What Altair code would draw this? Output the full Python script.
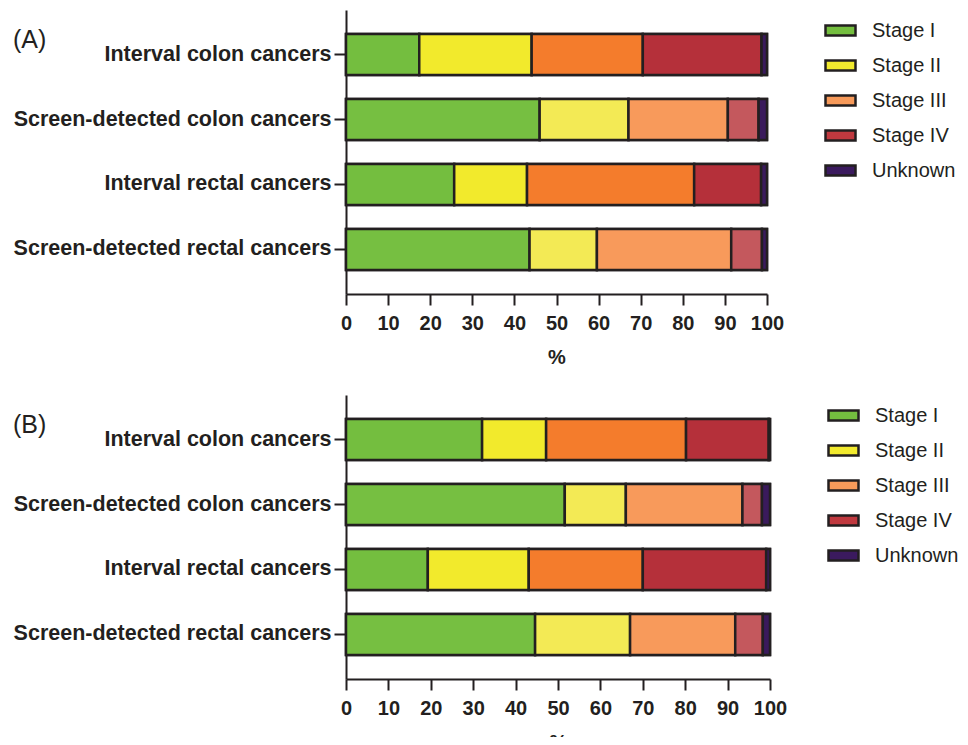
import altair as alt
import pandas as pd

groups = ["Interval colon cancers", "Screen-detected colon cancers",
          "Interval rectal cancers", "Screen-detected rectal cancers"]
stages = ["Stage I", "Stage II", "Stage III", "Stage IV", "Unknown"]

# Panel A percentages per stage (order of groups above)
a_stage1 = [17.4, 46.0, 25.7, 43.6]
a_stage2 = [26.7, 21.1, 17.3, 16.0]
a_stage3 = [26.4, 23.6, 39.7, 31.9]
a_stage4 = [28.2, 7.3, 15.9, 7.3]
a_unknown = [1.3, 2.0, 1.4, 1.2]

# Panel B percentages per stage
b_stage1 = [32.1, 51.6, 19.3, 44.6]
b_stage2 = [15.1, 14.4, 23.8, 22.4]
b_stage3 = [33.0, 27.5, 26.9, 24.8]
b_stage4 = [19.5, 4.6, 29.1, 6.5]
b_unknown = [0.3, 1.9, 0.9, 1.7]

panel_labels = ["(A)", "(B)"]

legend_colors = ["#74BE3F", "#F2EA2E", "#F79A5A", "#C0393F", "#3B1A5E"]
interval_colors = ["#74BE3F", "#F2EA2C", "#F47C2C", "#B5303A", "#3A1A5C"]
screen_colors = ["#76BF41", "#F3EA55", "#F89A5B", "#C4585D", "#3A1A5C"]

INK = "#231F20"
FONT = "Liberation Sans"


def long_df(cols):
    rows = []
    for s, vals in zip(stages, cols):
        for g, v in zip(groups, vals):
            rows.append({"group": g, "stage": s, "pct": v})
    return pd.DataFrame(rows)


key_domain = [s + " | interval" for s in stages] + [s + " | screen" for s in stages]
key_range = interval_colors + screen_colors


def panel(cols, label, width, height):
    df = long_df(cols)
    base = alt.Chart(df).transform_calculate(
        key="datum.stage + (indexof(datum.group, 'Interval') === 0 ? ' | interval' : ' | screen')"
    )
    y = alt.Y("group:N", sort=groups, title=None,
              scale=alt.Scale(paddingInner=0.37, paddingOuter=0.37),
              axis=alt.Axis(labelFont=FONT, labelFontSize=21.5, labelFontWeight="bold",
                            labelColor=INK, labelLimit=0, tickSize=12, tickWidth=2,
                            tickColor=INK, domainWidth=2, domainColor=INK, labelPadding=3))
    x = alt.X("pct:Q", stack="zero", title="%",
              scale=alt.Scale(domain=[0, 100], nice=False),
              axis=alt.Axis(values=list(range(0, 101, 10)), labelFont=FONT, labelFontSize=20,
                            labelFontWeight="bold", labelColor=INK, tickSize=11, tickWidth=2,
                            tickColor=INK, domainWidth=2, domainColor=INK, grid=False,
                            labelPadding=8, labelOverlap=False, labelFlush=False,
                            titleFont=FONT, titleFontSize=20, titleFontWeight="bold",
                            titleColor=INK, titlePadding=14))
    legend_layer = base.mark_bar(stroke=INK, strokeWidth=2.5).encode(
        x=x, y=y,
        color=alt.Color("stage:N",
                        scale=alt.Scale(domain=stages, range=legend_colors),
                        legend=alt.Legend(title=None, orient="right", offset=53,
                                          labelFont=FONT, labelFontSize=20, labelColor=INK,
                                          symbolType="M-1,-0.33H1V0.33H-1Z", symbolSize=900,
                                          symbolStrokeColor=INK, symbolStrokeWidth=2.5,
                                          symbolOpacity=1, labelOffset=15, rowPadding=8,
                                          padding=4)),
        order=alt.Order("stage:N", sort="ascending"),
    )
    bars = base.mark_bar(stroke=INK, strokeWidth=2.5).encode(
        x=x, y=y,
        color=alt.Color("key:N", scale=alt.Scale(domain=key_domain, range=key_range),
                        legend=None),
        order=alt.Order("stage:N", sort="ascending"),
    )
    tag = alt.Chart(alt.Data(values=[{"t": label}])).mark_text(
        font=FONT, fontSize=25, color=INK, align="left", baseline="middle"
    ).encode(x=alt.value(-333), y=alt.value(30), text="t:N")
    return alt.layer(legend_layer, bars, tag).resolve_scale(color="independent").properties(
        width=width, height=height)


chart_a = panel([a_stage1, a_stage2, a_stage3, a_stage4, a_unknown], panel_labels[0], 421, 284)
chart_b = panel([b_stage1, b_stage2, b_stage3, b_stage4, b_unknown], panel_labels[1], 424, 284)

chart = alt.vconcat(chart_a, chart_b, spacing=28).resolve_scale(color="independent").properties(
    autosize=alt.AutoSizeParams(type="none"),
    padding={"top": 2, "left": 338, "right": 613, "bottom": 727}
).configure_view(stroke=None)

chart.save("out.html", embed_options={"renderer": "svg", "actions": False})
